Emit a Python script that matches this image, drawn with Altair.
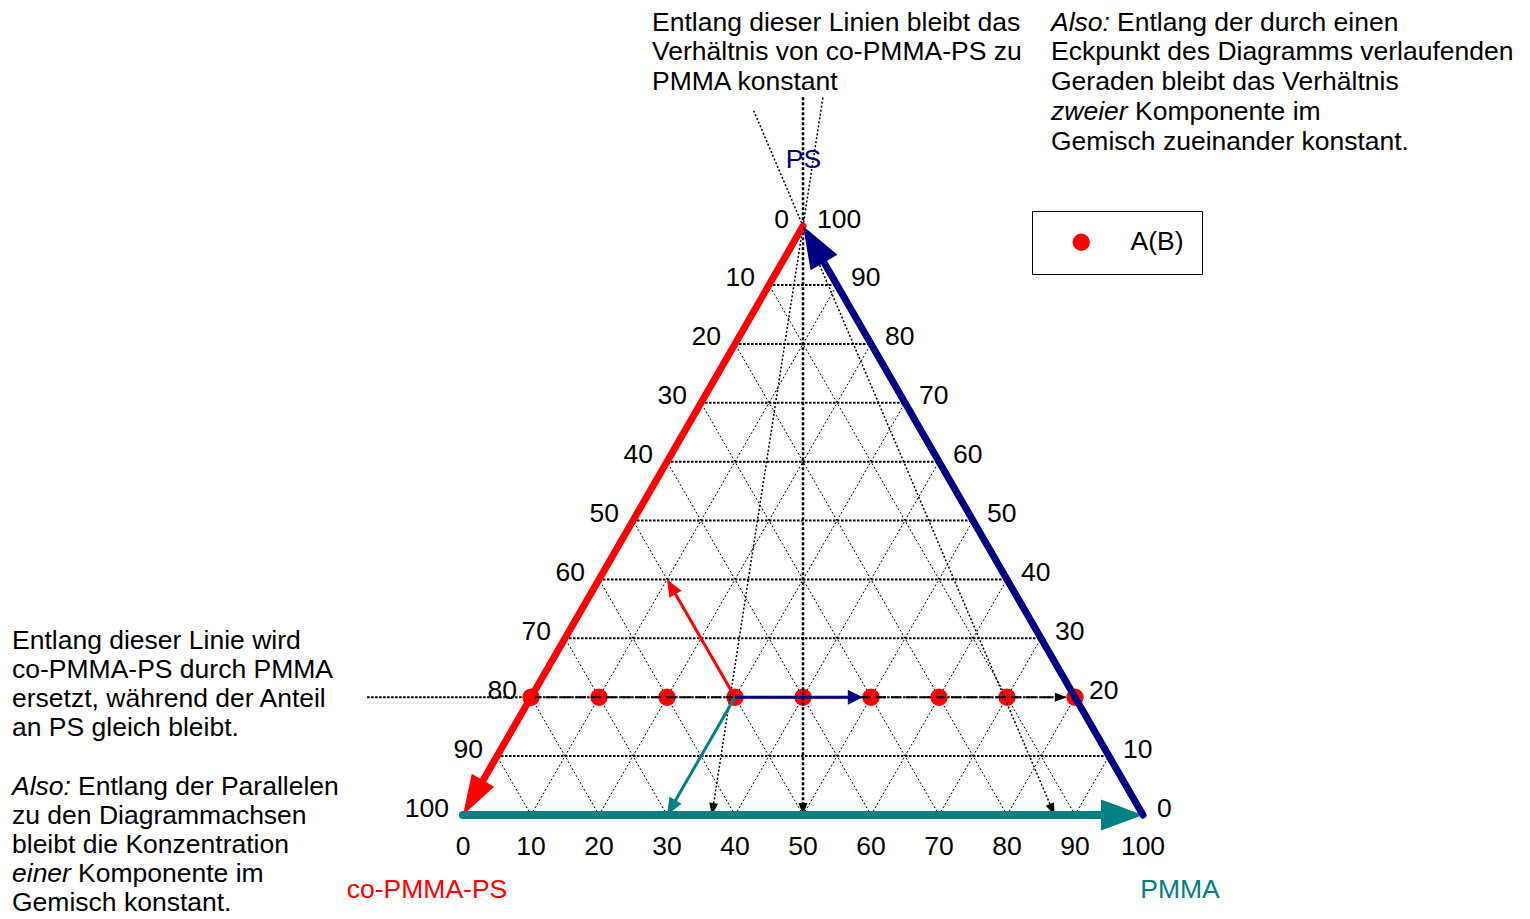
import math
import altair as alt
import pandas as pd

# ---------------- data ----------------
tick_values = [0, 10, 20, 30, 40, 50, 60, 70, 80, 90, 100]
grid_levels = [10, 20, 30, 40, 50, 60, 70, 80, 90]
component_names = ["co-PMMA-PS", "PMMA", "PS"]
component_colors = ["#ff0000", "#008080", "#000080"]

series_name = "A(B)"
series_pmma = [0, 10, 20, 30, 40, 50, 60, 70, 80]
series_ps = [20, 20, 20, 20, 20, 20, 20, 20, 20]

# example composition (PMMA, PS); co-PMMA-PS = 100 - PMMA - PS
example_start = [30, 20]
example_keep_co = [10, 40]      # co-PMMA-PS stays 50
example_keep_pmma = [30, 0]     # PMMA stays 30
example_keep_ps = [48.8, 20]    # PS stays 20

# lines through the PS corner: where they meet the base, and overshoot past the corner
ray_base_pmma = [36.6, 50.0, 87.0]
ray_overshoot = [0.218, 0.219, 0.196]

guide_ps = 20
guide_left_pmma = -24.1
guide_arrow_pmma = 78.8

top_center_lines = ["Entlang dieser Linien bleibt das",
                    "Verhältnis von co-PMMA-PS zu",
                    "PMMA konstant"]
top_right_lines = [("Also:", "Entlang der durch einen"),
                   ("", "Eckpunkt des Diagramms verlaufenden"),
                   ("", "Geraden bleibt das Verhältnis"),
                   ("zweier", "Komponente im"),
                   ("", "Gemisch zueinander konstant.")]
left_lines = [("", "Entlang dieser Linie wird"),
              ("", "co-PMMA-PS durch PMMA"),
              ("", "ersetzt, während der Anteil"),
              ("", "an PS gleich bleibt."),
              ("", ""),
              ("Also:", "Entlang der Parallelen"),
              ("", "zu den Diagrammachsen"),
              ("", "bleibt die Konzentration"),
              ("einer", "Komponente im"),
              ("", "Gemisch konstant.")]

# ---------------- layout ----------------
FONT = "Liberation Sans"
FS = 26.5
S = 6.8                      # pixels per base unit
W, H = 1514, 911
X0 = -(463 - 8) / S
X1 = X0 + W / S
Y1 = (815 - 8) / S
Y0 = Y1 - H / S
R3 = math.sqrt(3) / 2

xs = alt.Scale(domain=[X0, X1], nice=False, zero=False)
ys = alt.Scale(domain=[Y0, Y1], nice=False, zero=False)


def ux(px):
    return X0 + (px - 8) / S


def uy(py):
    return Y1 - (py - 8) / S


def cart(pmma, ps):
    return pmma + ps / 2.0, ps * R3


def XE():
    return alt.X("x:Q", scale=xs, axis=None)


def YE():
    return alt.Y("y:Q", scale=ys, axis=None)


def rules(segs, color, width, dash=None, cap="butt"):
    rows = []
    for a, b in segs:
        x1, y1 = cart(*a)
        x2, y2 = cart(*b)
        rows.append(dict(x=x1, y=y1, x2=x2, y2=y2))
    kw = dict(color=color, strokeWidth=width, strokeCap=cap)
    if dash:
        kw["strokeDash"] = dash
    return alt.Chart(pd.DataFrame(rows)).mark_rule(**kw).encode(
        x=XE(), y=YE(), x2=alt.X2("x2:Q"), y2=alt.Y2("y2:Q"))


def arrow(start, tip, color, width, hl, hw, dash=None, cap="butt", cut=0.6):
    x1, y1 = cart(*start)
    x2, y2 = cart(*tip)
    dx, dy = x2 - x1, y2 - y1
    L = math.hypot(dx, dy)
    c = hl * cut / S
    xe, ye = x2 - dx / L * c, y2 - dy / L * c
    kw = dict(color=color, strokeWidth=width, strokeCap=cap)
    if dash:
        kw["strokeDash"] = dash
    shaft = alt.Chart(pd.DataFrame([dict(x=x1, y=y1, x2=xe, y2=ye)])).mark_rule(**kw).encode(
        x=XE(), y=YE(), x2=alt.X2("x2:Q"), y2=alt.Y2("y2:Q"))
    ang = math.degrees(math.atan2(-dy, dx)) % 360
    r = hw / hl
    shape = f"M0,0L-2,{-r:.4f}L-2,{r:.4f}Z"
    head = alt.Chart(pd.DataFrame([dict(x=x2, y=y2, angle=ang)])).mark_point(
        shape=shape, filled=True, color=color, opacity=1, strokeWidth=0, size=hl * hl
    ).encode(x=XE(), y=YE(), angle=alt.Angle("angle:Q", scale=None))
    return [shaft, head]


layers = []

# thin diagonal grid
diag = []
for m in grid_levels:
    diag.append(((m, 0), (m, 100 - m)))          # PMMA constant
    diag.append(((100 - m, 0), (0, 100 - m)))    # co-PMMA-PS constant
layers.append(rules(diag, "#000000", 1, dash=[2, 2]))

# horizontal grid (PS constant)
horiz = []
for p in grid_levels:
    left = guide_left_pmma if p == guide_ps else 0
    horiz.append(((left, p), (100 - p, p)))
layers.append(rules(horiz, "#000000", 2, dash=[2.5, 1.5]))

# data points with legend
pts = []
for pm, ps in zip(series_pmma, series_ps):
    x, y = cart(pm, ps)
    pts.append(dict(x=x, y=y, series=series_name))
layers.append(alt.Chart(pd.DataFrame(pts)).mark_point(
    filled=True, opacity=1, strokeWidth=0, size=300).encode(
    x=XE(), y=YE(),
    color=alt.Color("series:N", scale=alt.Scale(domain=[series_name], range=["#ff0000"]),
                    legend=alt.Legend(title=None, orient="none", legendX=1024, legendY=203,
                                      padding=18, strokeColor="#000000", fillColor="#ffffff",
                                      symbolType="circle", symbolSize=300, symbolStrokeWidth=0,
                                      symbolOffset=18, labelOffset=36, labelFont=FONT,
                                      labelFontSize=FS, labelColor="#000000"))))

# dashed guide along PS = 20
layers += arrow((series_pmma[0], guide_ps), (guide_arrow_pmma, guide_ps), "#000000", 2, 12, 9,
                dash=[10, 5], cut=0.5)

# lines through the PS corner
for b, t in zip(ray_base_pmma, ray_overshoot):
    top = (-t * b, 100 + 100 * t)
    if b == 50.0:
        layers += arrow(top, (b, 0), "#000000", 2.5, 12, 9, dash=[3, 2], cut=0.5)
    else:
        layers += arrow(top, (b, 0), "#000000", 1.5, 12, 9, dash=[2, 2], cut=0.5)

# thin example arrows
layers += arrow(example_start, example_keep_co, "#ff0000", 3, 17, 14)
layers += arrow(example_start, example_keep_pmma, "#008080", 3, 17, 14)
layers += arrow(example_start, example_keep_ps, "#000080", 3, 15, 15)

# thick side arrows
layers += arrow((0, 100), (0, 0), "#ff0000", 7, 40, 26, cap="round")
layers += arrow((0, 0), (100, 0), "#008080", 8, 42, 31, cap="round")
layers += arrow((100, 0), (0, 100), "#000080", 7, 42, 31, cap="round")

# tick labels
left_t, right_t, bot_t = [], [], []
for v in tick_values:
    x, y = cart(0, 100 - v)           # co-PMMA-PS = v
    left_t.append(dict(x=x, y=y, t=str(v)))
    x, y = cart(100 - v, v)           # PS = v
    right_t.append(dict(x=x, y=y, t=str(v)))
    x, y = cart(v, 0)                 # PMMA = v
    bot_t.append(dict(x=x, y=y, t=str(v)))


def text_layer(rows, align, dx=0, dy=0, size=FS, color="#000000", italic=False):
    kw = dict(align=align, baseline="alphabetic", dx=dx, dy=dy, font=FONT,
              fontSize=size, color=color)
    if italic:
        kw["fontStyle"] = "italic"
    return alt.Chart(pd.DataFrame(rows)).mark_text(**kw).encode(x=XE(), y=YE(), text="t:N")


layers.append(text_layer(left_t, "right", dx=-14, dy=1.5))
layers.append(text_layer(right_t, "left", dx=14, dy=1.5))
layers.append(text_layer(bot_t, "center", dy=40))

# component titles
tx = [cart(0, 0), cart(100, 0), cart(0, 100)]
title_pos = [(-36 / S, -83 / S), (37 / S, -83 / S), (0.5 / S, 58 / S)]
for name, col, (cx, cy), (ox, oy) in zip(component_names, component_colors, tx, title_pos):
    layers.append(text_layer([dict(x=cx + ox, y=cy + oy, t=name)], "center", color=col))

# annotations
ITALIC_ADVANCE = {"Also:": 66, "zweier": 84, "einer": 66}


def block(lines, px, py0, step):
    norm, ital = [], []
    for i, ln in enumerate(lines):
        if isinstance(ln, str):
            ln = ("", ln)
        it, nt = ln
        yb = uy(py0 + step * i)
        off = 0
        if it:
            ital.append(dict(x=ux(px), y=yb, t=it))
            off = ITALIC_ADVANCE[it]
        if nt:
            norm.append(dict(x=ux(px + off), y=yb, t=nt))
    out = [text_layer(norm, "left")]
    if ital:
        out.append(text_layer(ital, "left", italic=True))
    return out


layers += block(top_center_lines, 652, 30.5, 29.8)
layers += block(top_right_lines, 1051, 30.5, 29.8)
layers += block(left_lines, 12, 649, 29.1)

chart = alt.layer(*layers).properties(
    width=W, height=H, padding=0,
    autosize=alt.AutoSizeParams(type="none"),
).configure_view(stroke=None)

chart.save("out.html", embed_options={"renderer": "svg", "actions": False})
